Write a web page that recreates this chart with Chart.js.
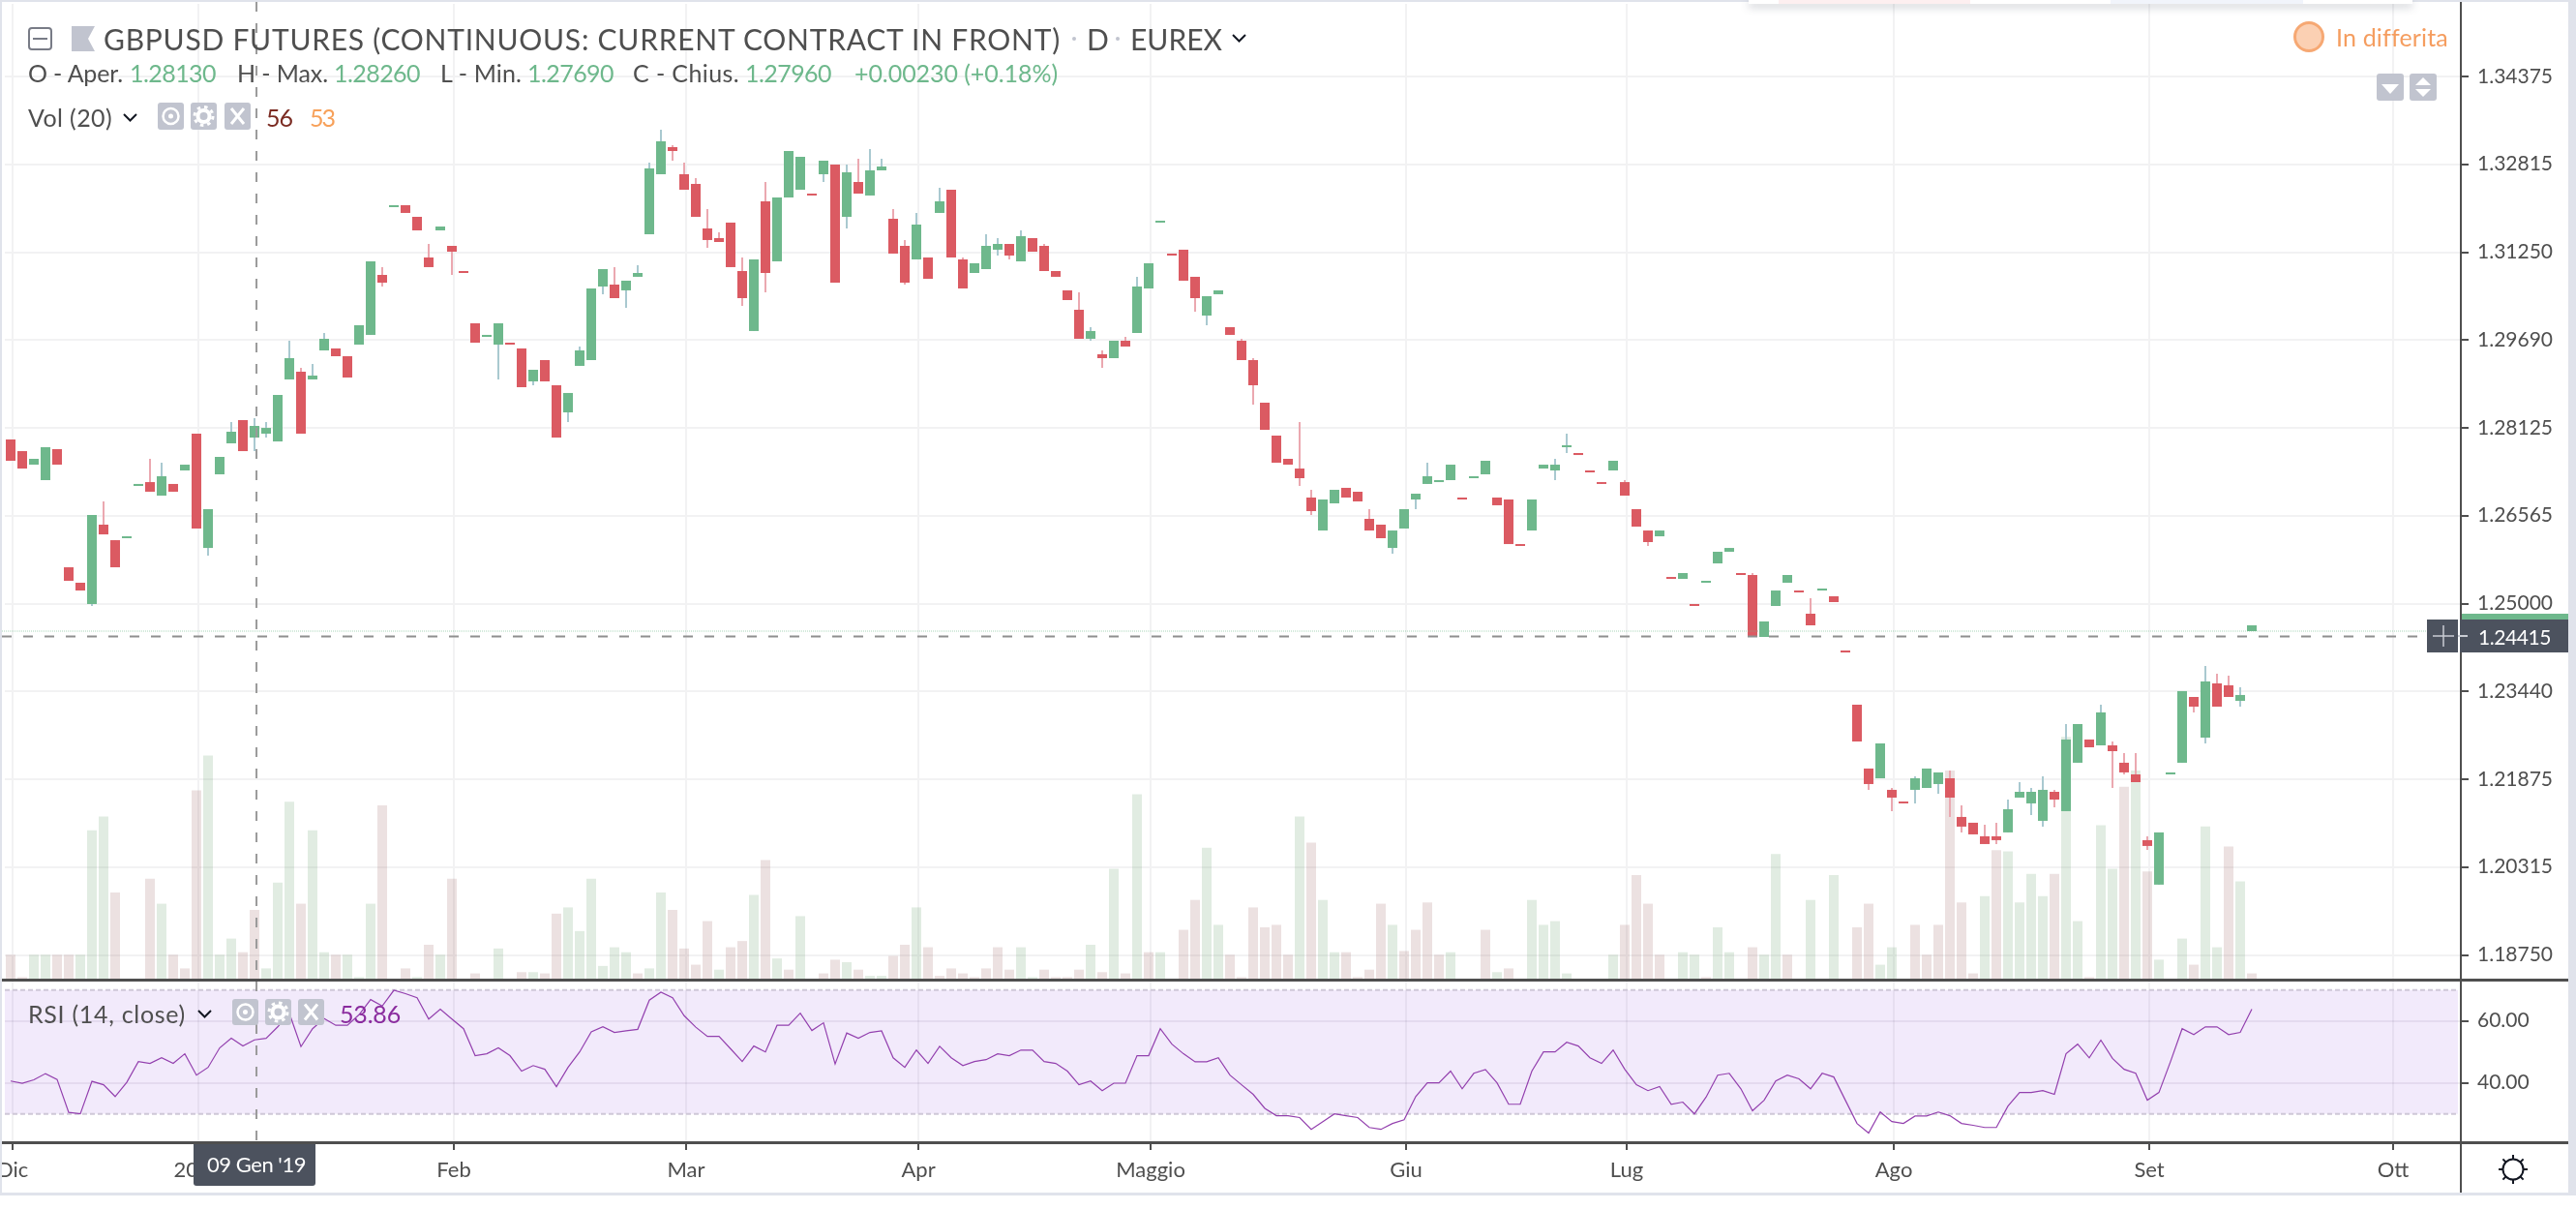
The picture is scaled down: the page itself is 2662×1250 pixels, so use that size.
<!DOCTYPE html>
<html>
<head>
<meta charset="utf-8">
<title>GBPUSD Futures</title>
<script src="https://cdn.jsdelivr.net/npm/chart.js@4/dist/chart.umd.min.js"></script>
<style>
  html, body { margin: 0; padding: 0; background: #fff; }
  body { position: relative; width: 2662px; height: 1250px; overflow: hidden; font-family: Lato, sans-serif; }
  canvas { position: absolute; left: 0; }
  #priceChart { top: 0; }
  #rsiChart { top: 1014px; }
  #overlay { position: absolute; left: 0; top: 0; width: 2662px; height: 1250px; pointer-events: none; }
  #overlay > * { position: absolute; }
  .txt { white-space: pre; line-height: 1; transform: translateY(-50%); }
  .box { background: #c1c4cf; border-radius: 3px; }
  .dark { background: #4c525e; }
  .line { background: #4f4f4f; }
  .strip { background: #e0e3eb; }
  svg { overflow: visible; }
</style>
</head>
<body>
<canvas id="priceChart" width="2662" height="1014"></canvas>
<canvas id="rsiChart" width="2662" height="236"></canvas>
<div id="overlay"></div>
<script>
const opens = [
  1.27919,1.27712,1.27471,1.27196,1.27747,1.25646,1.25371,1.24993,1.26404,1.26128,
  1.26163,1.27093,1.27161,1.26921,1.27128,1.27368,1.28022,1.25990,1.27299,1.27850,
  1.28263,1.27953,1.28022,1.27884,1.28987,1.29124,1.28987,1.29503,1.29538,1.29400,
  1.29606,1.29779,1.30846,1.32051,1.32085,1.31879,1.31156,1.31638,1.31362,1.30915,
  1.29985,1.29744,1.29606,1.29641,1.29538,1.28952,1.29331,1.28883,1.28401,1.29228,
  1.29331,1.30639,1.30674,1.30571,1.30812,1.31569,1.32636,1.33118,1.32636,1.32464,
  1.31672,1.31500,1.31776,1.30915,1.29848,1.32154,1.31087,1.32223,1.32361,1.32292,
  1.32636,1.32808,1.31879,1.32498,1.32258,1.32705,1.31844,1.31362,1.31121,1.31156,
  1.31948,1.32361,1.31121,1.30880,1.30949,1.31294,1.31397,1.31087,1.31500,1.31362,
  1.30915,1.30571,1.30226,1.29710,1.29434,1.29365,1.29675,1.29813,1.30605,1.31776,
  1.31225,1.31294,1.30812,1.30123,1.30502,1.29916,1.29675,1.29331,1.28573,1.27988,
  1.27575,1.27402,1.26886,1.26300,1.26783,1.27059,1.26990,1.26507,1.26404,1.25990,
  1.26335,1.26852,1.27128,1.27161,1.27196,1.26886,1.27230,1.27299,1.26886,1.26852,
  1.26059,1.26300,1.27402,1.27368,1.27781,1.27678,1.27368,1.27161,1.27368,1.27161,
  1.26680,1.26300,1.26197,1.25474,1.25440,1.24993,1.25371,1.25715,1.25922,1.25543,
  1.25509,1.24407,1.24958,1.25371,1.25233,1.24820,1.25233,1.25130,1.24166,1.23202,
  1.22067,1.21894,1.21688,1.21481,1.21688,1.21722,1.21791,1.21894,1.21206,1.21103,
  1.20862,1.20862,1.20931,1.21550,1.21447,1.21137,1.21653,1.21309,1.22170,1.22583,
  1.22479,1.22479,1.22170,1.21963,1.20793,1.20002,1.21963,1.22170,1.23340,1.22617,
  1.23581,1.23547,1.23271,1.24510,
];

const highs = [
  1.27919,1.27712,1.27575,1.27781,1.27747,1.25646,1.25371,1.26576,1.26817,1.26128,
  1.26197,1.27128,1.27575,1.27506,1.27128,1.27471,1.28022,1.26680,1.27609,1.28229,
  1.28263,1.28298,1.28229,1.28711,1.29675,1.29193,1.29262,1.29813,1.29538,1.29400,
  1.29951,1.31087,1.30984,1.32085,1.32085,1.31879,1.31397,1.31707,1.31362,1.30915,
  1.29985,1.29779,1.29985,1.29641,1.29538,1.29159,1.29331,1.28883,1.28746,1.29572,
  1.30605,1.30949,1.30984,1.30743,1.31018,1.32843,1.33429,1.33153,1.32843,1.32567,
  1.32017,1.31603,1.31776,1.31156,1.31121,1.32498,1.32223,1.33049,1.32946,1.32292,
  1.32877,1.32808,1.32808,1.32912,1.33084,1.32912,1.32017,1.31466,1.31948,1.31156,
  1.32395,1.32361,1.31156,1.31053,1.31569,1.31500,1.31397,1.31638,1.31500,1.31397,
  1.30915,1.30571,1.30536,1.29916,1.29503,1.29675,1.29744,1.30812,1.31053,1.31810,
  1.31225,1.31294,1.30812,1.30467,1.30571,1.29916,1.29710,1.29365,1.28573,1.27988,
  1.27575,1.28229,1.27024,1.26852,1.27024,1.27059,1.26990,1.26680,1.26404,1.26300,
  1.26680,1.26955,1.27506,1.27196,1.27471,1.26886,1.27265,1.27540,1.26886,1.26852,
  1.26059,1.26852,1.27471,1.27575,1.28022,1.27678,1.27368,1.27161,1.27540,1.27196,
  1.26680,1.26300,1.26300,1.25474,1.25543,1.24993,1.25406,1.25922,1.25990,1.25543,
  1.25543,1.24683,1.25233,1.25509,1.25233,1.25096,1.25268,1.25130,1.24166,1.23202,
  1.22067,1.22514,1.21722,1.21481,1.21929,1.22067,1.21998,1.22032,1.21412,1.21103,
  1.21068,1.21103,1.21515,1.21825,1.21722,1.21929,1.21688,1.22858,1.22858,1.22583,
  1.23202,1.22548,1.22342,1.22342,1.20862,1.20931,1.21998,1.23444,1.23340,1.23891,
  1.23753,1.23719,1.23512,1.24614,
];

const lows = [
  1.27540,1.27402,1.27471,1.27196,1.27471,1.25406,1.25233,1.24958,1.26231,1.25646,
  1.26163,1.27093,1.26990,1.26921,1.26990,1.27368,1.26335,1.25853,1.27299,1.27850,
  1.27712,1.27712,1.27953,1.27884,1.28987,1.28022,1.28987,1.29503,1.29400,1.29021,
  1.29606,1.29779,1.30639,1.32051,1.31948,1.31638,1.30984,1.31638,1.30846,1.30880,
  1.29641,1.29744,1.28987,1.29606,1.28849,1.28883,1.28952,1.27953,1.28229,1.29228,
  1.29331,1.30502,1.30433,1.30261,1.30812,1.31569,1.32636,1.32877,1.32361,1.31879,
  1.31328,1.31431,1.30984,1.30295,1.29848,1.30536,1.31087,1.32223,1.32361,1.32258,
  1.32498,1.30708,1.31672,1.32292,1.32258,1.32705,1.31225,1.30674,1.31121,1.30777,
  1.31948,1.31156,1.30605,1.30880,1.30949,1.31190,1.31121,1.31087,1.31259,1.30915,
  1.30812,1.30398,1.29710,1.29675,1.29193,1.29365,1.29572,1.29813,1.30605,1.31776,
  1.31190,1.30743,1.30192,1.29951,1.30502,1.29779,1.29331,1.28539,1.28091,1.27506,
  1.27471,1.27093,1.26576,1.26300,1.26783,1.26886,1.26817,1.26300,1.26163,1.25887,
  1.26335,1.26680,1.27128,1.27161,1.27196,1.26852,1.27230,1.27299,1.26749,1.26059,
  1.26025,1.26300,1.27402,1.27196,1.27678,1.27643,1.27334,1.27128,1.27368,1.26921,
  1.26369,1.26025,1.26197,1.25440,1.25440,1.24958,1.25371,1.25715,1.25922,1.25509,
  1.24407,1.24407,1.24958,1.25371,1.25199,1.24614,1.25233,1.25027,1.24131,1.22548,
  1.21688,1.21894,1.21309,1.21447,1.21447,1.21722,1.21619,1.21206,1.20931,1.20896,
  1.20724,1.20724,1.20931,1.21550,1.21240,1.21034,1.21378,1.21309,1.22170,1.22445,
  1.22479,1.21722,1.21963,1.21825,1.20621,1.20002,1.21963,1.22170,1.23065,1.22514,
  1.23168,1.23340,1.23168,1.24510,
];

const closes = [
  1.27540,1.27402,1.27575,1.27781,1.27471,1.25406,1.25233,1.26576,1.26231,1.25646,
  1.26197,1.27128,1.26990,1.27265,1.26990,1.27471,1.26335,1.26680,1.27609,1.28057,
  1.27712,1.28160,1.28125,1.28711,1.29365,1.28022,1.29055,1.29710,1.29400,1.29021,
  1.29951,1.31087,1.30708,1.32085,1.31948,1.31638,1.30984,1.31707,1.31259,1.30880,
  1.29641,1.29779,1.29985,1.29606,1.28849,1.29159,1.28952,1.27953,1.28746,1.29503,
  1.30605,1.30949,1.30433,1.30743,1.30880,1.32740,1.33222,1.33049,1.32361,1.31879,
  1.31466,1.31431,1.30984,1.30433,1.31121,1.30880,1.32223,1.33049,1.32946,1.32258,
  1.32877,1.30708,1.32671,1.32292,1.32705,1.32774,1.31225,1.30708,1.31741,1.30777,
  1.32154,1.31156,1.30605,1.31053,1.31362,1.31397,1.31190,1.31535,1.31259,1.30915,
  1.30812,1.30398,1.29710,1.29848,1.29365,1.29675,1.29572,1.30639,1.31053,1.31810,
  1.31190,1.30743,1.30433,1.30467,1.30571,1.29779,1.29331,1.28883,1.28091,1.27506,
  1.27471,1.27230,1.26645,1.26852,1.27024,1.26886,1.26817,1.26300,1.26163,1.26300,
  1.26680,1.26955,1.27265,1.27196,1.27471,1.26852,1.27265,1.27540,1.26749,1.26059,
  1.26025,1.26852,1.27471,1.27471,1.27816,1.27643,1.27334,1.27128,1.27540,1.26921,
  1.26369,1.26094,1.26300,1.25440,1.25543,1.24958,1.25406,1.25922,1.25990,1.25509,
  1.24407,1.24683,1.25233,1.25509,1.25199,1.24614,1.25268,1.25027,1.24131,1.22548,
  1.21791,1.22514,1.21550,1.21447,1.21894,1.22067,1.21998,1.21550,1.21034,1.20896,
  1.20724,1.20793,1.21343,1.21653,1.21653,1.21688,1.21515,1.22583,1.22858,1.22445,
  1.23065,1.22376,1.21998,1.21825,1.20690,1.20931,1.21998,1.23444,1.23168,1.23616,
  1.23168,1.23340,1.23375,1.24614,
];

const volumes = [
  20,2,20,20,20,20,20,120,131,70, 0,0,81,61,20,9,152,180,20,33,
  22,56,9,78,143,61,120,22,20,20, 2,61,140,0,9,2,28,20,81,0,
  5,0,25,0,6,6,5,53,58,39, 81,11,26,22,5,9,70,56,25,12,
  47,8,26,31,68,96,17,8,51,0, 5,16,14,8,3,3,19,28,58,26,
  3,9,5,2,9,26,8,26,2,8, 2,2,8,28,6,89,5,149,22,22,
  0,40,64,106,44,20,2,58,42,44, 20,131,110,64,22,22,2,8,61,44,
  23,40,62,20,22,0,0,40,6,9, 0,64,44,47,5,0,0,0,20,44,
  84,61,20,0,22,20,2,42,22,0, 26,20,101,20,0,64,0,84,0,42,
  61,12,26,0,44,20,44,168,62,5, 67,104,103,62,85,67,85,195,47,2,
  124,89,155,168,87,16,0,33,12,123, 26,107,79,5,
];

const volumeUp = [
  0,0,1,1,0,0,1,1,1,0, 0,0,0,1,0,0,0,1,1,1,
  0,0,1,1,1,0,1,1,0,1, 1,1,0,0,0,1,0,1,0,0,
  0,0,1,0,0,1,0,0,1,1, 1,1,1,1,0,1,1,0,0,0,
  0,1,0,0,1,0,1,0,1,0, 0,0,1,0,1,1,0,0,1,0,
  0,0,0,0,0,0,0,1,1,0, 0,0,0,1,0,1,0,1,0,1,
  0,0,0,1,1,0,0,0,0,0, 0,1,0,1,1,0,0,0,0,1,
  0,0,0,0,1,0,0,0,1,0, 0,1,1,1,1,0,0,0,1,0,
  0,0,0,0,1,1,0,1,1,0, 0,1,1,0,0,1,0,1,0,0,
  0,1,1,0,0,0,0,0,0,0, 1,0,1,1,1,1,0,1,1,0,
  1,1,0,1,0,1,0,1,0,1, 1,0,1,0,
];

const rsiValues = [
  40.6,39.9,41.0,43.0,41.1,30.5,30.0,40.5,39.4,35.6,
  40.2,46.9,46.3,48.1,46.3,49.4,42.5,45.0,51.3,54.4,
  51.9,53.9,54.4,58.1,62.5,51.7,57.5,60.8,58.6,58.6,
  62.0,66.9,64.8,69.9,68.8,67.5,60.6,63.8,60.6,57.5,
  48.8,49.4,51.3,48.8,43.8,45.6,44.4,38.8,45.0,50.0,
  56.5,58.1,56.3,56.8,57.3,66.7,69.3,67.5,61.7,58.0,
  55.0,55.0,51.0,46.9,51.9,50.0,58.6,58.6,62.5,56.9,
  59.4,46.1,56.1,54.4,56.3,56.8,48.1,45.0,50.6,46.3,
  51.8,48.1,45.6,46.9,47.5,49.4,48.8,50.6,50.6,46.9,
  46.3,43.8,39.4,40.6,37.5,39.9,39.9,48.8,48.8,57.5,
  52.5,49.4,46.8,46.8,48.1,42.5,39.4,36.3,31.8,29.4,
  29.4,28.8,25.0,27.5,30.0,29.4,28.8,25.6,25.0,26.9,
  28.1,35.6,40.0,40.0,43.8,38.1,43.1,44.3,40.0,33.1,
  33.1,43.8,50.0,50.0,53.1,51.9,48.1,46.3,50.6,44.4,
  39.4,37.5,38.8,33.1,33.8,30.0,35.4,42.5,43.1,38.1,
  31.0,34.4,40.6,42.5,41.3,38.1,43.1,41.9,34.4,26.9,
  23.8,30.6,27.5,26.9,29.3,29.3,30.6,29.4,26.9,26.3,
  25.6,25.6,32.5,36.9,36.9,37.5,36.3,49.4,52.5,48.1,
  53.8,47.9,44.4,43.1,34.4,36.9,46.9,57.5,55.6,58.1,
  58.1,55.6,56.3,63.8,
];

const priceTicks = [1.34375, 1.32815, 1.3125, 1.2969, 1.28125, 1.26565, 1.25, 1.2344, 1.21875, 1.20315, 1.1875];
const rsiTicks = [60, 40];
const monthBars = [0, 16, 38, 58, 78, 98, 120, 139, 162, 184, 205];
const monthLabels = ['Dic', '2019', 'Feb', 'Mar', 'Apr', 'Maggio', 'Giu', 'Lug', 'Ago', 'Set', 'Ott'];

const CROSS_BAR = 21;
const CROSS_PRICE = 1.24415;
const RSI_UPPER = 70;
const RSI_LOWER = 30;

const GREEN = '#6eb88c';
const RED = '#db5a62';
const GRID = '#f2f2f3';
const AXIS_TEXT = '#4f4f4f';
const TICK_SHIFT = 0.17; // month lines sit a touch right of the bar centres

const isUp = (i) => closes[i] > opens[i];

const monthTicks = monthBars.map((bar) => bar + TICK_SHIFT);

function monthAxis(extra) {
  return {
    type: 'linear',
    min: -0.5,
    max: 211,
    offset: false,
    afterBuildTicks: (scale) => { scale.ticks = monthTicks.map((value) => ({ value })); },
    border: { display: false },
    ...extra,
  };
}

// axis labels must not push the plot area around
function valueAxisFit(scale) {
  scale.width = 119;
  scale.paddingTop = 0;
  scale.paddingBottom = 0;
}

function crosshairV(chart, top, bottom) {
  const { ctx, scales } = chart;
  const x = scales.x.getPixelForValue(CROSS_BAR + TICK_SHIFT);
  ctx.save();
  ctx.strokeStyle = '#9a9a9a';
  ctx.lineWidth = 2;
  ctx.setLineDash([10, 12]);
  ctx.beginPath();
  ctx.moveTo(x, top);
  ctx.lineTo(x, bottom);
  ctx.stroke();
  ctx.restore();
}

const pricePlugin = {
  id: 'priceOverlays',
  afterDatasetsDraw(chart) {
    const { ctx, scales, chartArea } = chart;
    const lastY = scales.y.getPixelForValue(opens[opens.length - 1]);
    ctx.save();
    ctx.strokeStyle = 'rgba(110,184,140,0.3)';
    ctx.lineWidth = 2;
    ctx.setLineDash([1, 1]);
    ctx.beginPath();
    ctx.moveTo(chartArea.left - 5, lastY);
    ctx.lineTo(2508, lastY);
    ctx.stroke();

    const crossY = scales.y.getPixelForValue(CROSS_PRICE);
    ctx.strokeStyle = '#8f8f8f';
    ctx.setLineDash([10, 12]);
    ctx.beginPath();
    ctx.moveTo(chartArea.left - 3, crossY);
    ctx.lineTo(2508, crossY);
    ctx.stroke();
    ctx.restore();
    crosshairV(chart, 2, chartArea.bottom + 2);
  },
};

const rsiPlugin = {
  id: 'rsiOverlays',
  beforeDatasetsDraw(chart) {
    const { ctx, scales, chartArea } = chart;
    const top = scales.y.getPixelForValue(RSI_UPPER);
    const bottom = scales.y.getPixelForValue(RSI_LOWER);
    const right = chartArea.right - 3;
    ctx.save();
    ctx.fillStyle = 'rgba(130,50,220,0.1)';
    ctx.fillRect(chartArea.left, top, right - chartArea.left, bottom - top);
    ctx.strokeStyle = '#cfc8d8';
    ctx.lineWidth = 2;
    ctx.setLineDash([5, 3]);
    [top, bottom].forEach((y) => {
      ctx.beginPath();
      ctx.moveTo(chartArea.left, y);
      ctx.lineTo(right, y);
      ctx.stroke();
    });
    ctx.restore();
  },
  afterDatasetsDraw(chart) {
    crosshairV(chart, 0, 174);
  },
};

new Chart(document.getElementById('priceChart'), {
  type: 'bar',
  plugins: [pricePlugin],
  data: {
    datasets: [
      {
        label: 'Vol',
        order: 3,
        yAxisID: 'yVol',
        barThickness: 10,
        data: volumes.map((v, i) => ({ x: i, y: v })),
        backgroundColor: volumeUp.map((up) => (up ? 'rgba(104,160,110,0.2)' : 'rgba(150,90,90,0.18)')),
      },
      {
        label: 'Wick',
        order: 2,
        yAxisID: 'y',
        barThickness: 2,
        data: opens.map((o, i) => ({ x: i, y: [lows[i], highs[i]] })),
        backgroundColor: opens.map((o, i) => (isUp(i) ? '#a9c9d0' : '#eba8b0')),
      },
      {
        label: 'Body',
        order: 1,
        yAxisID: 'y',
        barThickness: 10,
        data: opens.map((o, i) => ({ x: i, y: [o, closes[i]] })),
        backgroundColor: opens.map((o, i) => (isUp(i) ? GREEN : RED)),
      },
    ],
  },
  options: {
    responsive: false,
    animation: false,
    events: [],
    layout: { padding: { left: 5, top: 4, right: 0, bottom: 0 } },
    datasets: { bar: { grouped: false, inflateAmount: 0, borderWidth: 0 } },
    plugins: { legend: { display: false }, tooltip: { enabled: false } },
    scales: {
      x: monthAxis({
        ticks: { display: false },
        grid: { offset: false, color: GRID, lineWidth: 2, drawTicks: false },
        afterFit: (scale) => { scale.height = 2; scale.paddingLeft = 0; scale.paddingRight = 0; },
      }),
      y: {
        position: 'right',
        min: 1.18313,
        max: 1.35666,
        afterBuildTicks: (scale) => { scale.ticks = priceTicks.map((value) => ({ value })); },
        afterFit: valueAxisFit,
        border: { display: false },
        grid: { color: GRID, lineWidth: 2, tickColor: AXIS_TEXT, tickLength: 8, tickWidth: 2 },
        ticks: {
          padding: 9,
          color: AXIS_TEXT,
          font: { family: 'Lato', size: 21 },
          callback: (value) => value.toFixed(5),
        },
      },
      yVol: { display: false, min: 0, max: 784 },
    },
  },
});

new Chart(document.getElementById('rsiChart'), {
  type: 'line',
  plugins: [rsiPlugin],
  data: {
    datasets: [{
      label: 'RSI',
      data: rsiValues.map((v, i) => ({ x: i, y: v })),
      borderColor: '#9340ae',
      borderWidth: 1.2,
      pointRadius: 0,
      tension: 0,
    }],
  },
  options: {
    responsive: false,
    animation: false,
    events: [],
    layout: { padding: { left: 5, top: 0, right: 0, bottom: 0 } },
    plugins: { legend: { display: false }, tooltip: { enabled: false } },
    scales: {
      x: monthAxis({
        grid: { color: GRID, lineWidth: 2, tickColor: AXIS_TEXT, tickLength: 8, tickWidth: 2 },
        ticks: {
          autoSkip: false,
          maxRotation: 0,
          padding: 8,
          color: AXIS_TEXT,
          font: { family: 'Lato', size: 22 },
          callback: (value) => monthLabels[monthTicks.indexOf(value)],
        },
        afterFit: (scale) => { scale.height = 70; scale.paddingLeft = 0; scale.paddingRight = 0; },
      }),
      y: {
        position: 'right',
        min: 20.84,
        max: 72.72,
        afterBuildTicks: (scale) => { scale.ticks = rsiTicks.map((value) => ({ value })); },
        afterFit: valueAxisFit,
        border: { display: false },
        grid: { color: 'rgba(120,110,140,0.12)', lineWidth: 2, tickColor: AXIS_TEXT, tickLength: 8, tickWidth: 2 },
        ticks: {
          padding: 9,
          color: AXIS_TEXT,
          font: { family: 'Lato', size: 21 },
          callback: (value) => value.toFixed(2),
        },
      },
    },
  },
});

// everything around the plot: legends, buttons, pane rules
const overlay = document.getElementById('overlay');

function rect(x, y, w, h, cls, css) {
  const el = document.createElement('div');
  el.className = cls || '';
  el.style.cssText = `left:${x}px;top:${y}px;width:${w}px;height:${h}px;${css || ''}`;
  overlay.appendChild(el);
  return el;
}

// text fitted between x1 and x2 so the run lengths match
function text(str, x1, x2, yc, size, color) {
  const el = document.createElement('span');
  el.className = 'txt';
  el.textContent = str;
  el.style.cssText = `left:${x1}px;top:${yc}px;font-size:${size}px;color:${color}`;
  overlay.appendChild(el);
  const gap = (x2 - x1 - el.getBoundingClientRect().width) / str.length;
  el.style.letterSpacing = `${gap.toFixed(3)}px`;
  return el;
}

function svg(x, y, w, h, inner) {
  const el = document.createElementNS('http://www.w3.org/2000/svg', 'svg');
  el.setAttribute('width', w);
  el.setAttribute('height', h);
  el.setAttribute('viewBox', `0 0 ${w} ${h}`);
  el.style.left = `${x}px`;
  el.style.top = `${y}px`;
  el.innerHTML = inner;
  overlay.appendChild(el);
}

const chevron = (x, y) => svg(x, y, 15, 9, '<path d="M1 1 L7.5 7.5 L14 1" fill="none" stroke="#131722" stroke-width="2"/>');

function iconRow(xs, y, h) {
  const w = 27;
  const inner = [
    `<circle cx="${w / 2}" cy="${h / 2}" r="8" fill="none" stroke="#fff" stroke-width="2.5"/><circle cx="${w / 2}" cy="${h / 2}" r="2.5" fill="#fff"/>`,
    `<circle cx="${w / 2}" cy="${h / 2}" r="6" fill="none" stroke="#fff" stroke-width="4"/><circle cx="${w / 2}" cy="${h / 2}" r="9.5" fill="none" stroke="#fff" stroke-width="3" stroke-dasharray="3.5 4"/>`,
    `<path d="M7 ${h / 2 - 8} L20 ${h / 2 + 8} M20 ${h / 2 - 8} L7 ${h / 2 + 8}" stroke="#fff" stroke-width="3"/>`,
  ];
  xs.forEach((x, i) => {
    rect(x, y, w, h, 'box');
    svg(x, y, w, h, inner[i]);
  });
}

// page frame
rect(0, 0, 2662, 2, 'strip');
rect(0, 0, 2, 1233, 'strip');
rect(2654, 0, 8, 1233, 'strip');
rect(0, 1232, 2662, 3, 'strip');

// corner of a popup cut off by the top of the screenshot
rect(1807, 0, 686, 4, '', 'background:#fff;box-shadow:0 3px 9px rgba(60,70,90,0.35)');
rect(1838, 0, 198, 4, '', 'background:#fdeff0');
rect(2181, 0, 199, 4, '', 'background:#f1f4fb');

// axis rules
rect(2542, 2, 2, 1230, 'line');
rect(2, 1011, 2652, 3, 'line');
rect(2, 1179, 2652, 3, 'line');

// title row
rect(29, 28, 25, 24, '', 'box-sizing:border-box;border:2px solid #787b86;border-radius:4px');
rect(34, 39, 15, 2, '', 'background:#787b86');
svg(74, 27, 24, 26, '<path d="M0 0 H24 L17 13 L24 26 H0 Z" fill="#c1c4cf"/>');
const TITLE = '#4f4f4f';
text('GBPUSD FUTURES (CONTINUOUS: CURRENT CONTRACT IN FRONT)', 107, 1096, 40, 30, TITLE);
rect(1108, 38, 4, 4, '', 'background:#c1c4cf;border-radius:50%');
text('D', 1123, 1140, 40, 30, TITLE);
rect(1153, 38, 4, 4, '', 'background:#c1c4cf;border-radius:50%');
text('EUREX', 1168, 1263, 40, 30, TITLE);
chevron(1273, 35);

// OHLC row
const VALUE_GREEN = '#6eb88c';
text('O - Aper.', 29, 127, 75, 25, TITLE);
text('1.28130', 134, 223, 75, 25, VALUE_GREEN);
text('H - Max.', 245, 339, 75, 25, TITLE);
text('1.28260', 345, 434, 75, 25, VALUE_GREEN);
text('L - Min.', 455, 539, 75, 25, TITLE);
text('1.27690', 545, 634, 75, 25, VALUE_GREEN);
text('C - Chius.', 654, 764, 75, 25, TITLE);
text('1.27960', 770, 859, 75, 25, VALUE_GREEN);
text('+0.00230 (+0.18%)', 883, 1093, 75, 25, VALUE_GREEN);

// volume legend
text('Vol (20)', 29, 116, 121, 25, TITLE);
chevron(127, 117);
iconRow([163, 197, 232], 106, 28);
text('56', 275, 302, 121, 25, '#7b2b22');
text('53', 320, 345, 121, 25, '#f7a15a');

// RSI legend
text('RSI (14, close)', 29, 192, 1047, 25, TITLE);
chevron(204, 1043);
iconRow([240, 274, 308], 1032, 27);
text('53.86', 351, 414, 1047, 25, '#8a2b9e');

// delayed-data badge and pane buttons
rect(2370, 22, 32, 32, '', 'box-sizing:border-box;background:#fbd0b3;border:3px solid #f6a873;border-radius:50%');
text('In differita', 2414, 2529, 38, 25, '#f59d5f');
rect(2456, 76, 28, 28, 'box');
svg(2456, 76, 28, 28, '<path d="M5 11 H23 L14 21 Z" fill="#fff"/>');
rect(2490, 76, 28, 28, 'box');
svg(2490, 76, 28, 28, '<path d="M6 12 H22 L14 4 Z M6 16 H22 L14 24 Z" fill="#fff"/>');

// crosshair labels
rect(2544, 634, 110, 7, '', `background:${GREEN}`);
rect(2508, 640, 32, 34, 'dark');
svg(2508, 640, 32, 34, '<path d="M17 6 V28 M6 17 H28" stroke="#c9ccd3" stroke-width="1.5"/>');
rect(2542, 640, 112, 34, 'dark');
rect(2540, 656, 10, 2, '', 'background:#c9ccd3');
text('1.24415', 2561, 2636, 657, 21, '#fff');
rect(200, 1182, 126, 43, 'dark', 'border-radius:0 0 3px 3px');
text("09 Gen '19", 214, 316, 1203, 22, '#fff');

// gear at the bottom right
svg(2582, 1193, 30, 30, `<circle cx="15" cy="15" r="10.5" fill="none" stroke="#131722" stroke-width="2"/>
  <path d="M15 0 V5 M15 25 V30 M0 15 H5 M25 15 H30 M4.4 4.4 L8 8 M22 22 L25.6 25.6 M25.6 4.4 L22 8 M8 22 L4.4 25.6" stroke="#131722" stroke-width="2"/>`);
</script>
</body>
</html>
